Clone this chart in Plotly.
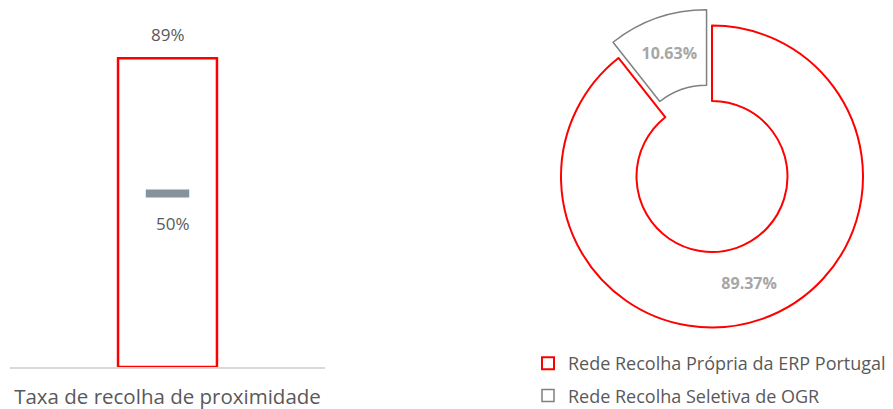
import plotly.graph_objects as go

# Data
bar_categories = ["Taxa de recolha de proximidade"]
bar_values = [0.89]
target_values = [0.50]

pie_labels = ["Rede Recolha Própria da ERP Portugal", "Rede Recolha Seletiva de OGR"]
pie_values = [89.37, 10.63]

W, H = 893, 409
FONT = "Open Sans"
TXT = "#595959"

fig = go.Figure()

fig.add_trace(go.Bar(
    x=bar_categories, y=bar_values, width=0.314,
    marker=dict(color="white", line=dict(color="#ff0000", width=2.5)),
    showlegend=False, hoverinfo="skip",
))
fig.add_trace(go.Scatter(
    x=bar_categories, y=target_values, mode="markers",
    marker=dict(symbol="line-ew", size=31, line=dict(color="#86939c", width=8)),
    showlegend=False, hoverinfo="skip",
))
for c, v in zip(bar_categories, bar_values):
    fig.add_annotation(x=c, y=v, text=f"{v:.0%}", showarrow=False, yshift=24,
                       font=dict(family=FONT, size=17, color=TXT))
for c, v in zip(bar_categories, target_values):
    fig.add_annotation(x=c, y=v, text=f"{v:.0%}", showarrow=False, yshift=-30, xshift=5,
                       font=dict(family=FONT, size=17, color=TXT))

pull = 0.11
half = 151 * (1 + pull)
cx, cy = 712.0, 176.5
fig.add_trace(go.Pie(
    labels=pie_labels, values=pie_values, hole=0.5, sort=False,
    direction="clockwise", rotation=0, pull=[0, pull],
    marker=dict(colors=["white", "white"], line=dict(color=["#ff0000", "#808080"], width=[2, 1.5])),
    texttemplate="<b>%{value:.2f}%</b>", textposition="inside",
    insidetextorientation="horizontal",
    textfont=dict(family=FONT, size=16, color="#a6a6a6"),
    domain=dict(x=[(cx - half) / W, (cx + half) / W],
                y=[(H - cy - half) / H, (H - cy + half) / H]),
    showlegend=False, hoverinfo="skip",
))

# Legend entries
leg_colors = ["#ff0000", "#7f7f7f"]
for lab, col in zip(pie_labels, leg_colors):
    fig.add_trace(go.Scatter(
        x=[None], y=[None], mode="markers", name=lab, legendgroup=lab,
        marker=dict(symbol="square", size=12, color="white",
                    line=dict(color=col, width=2 if col == "#ff0000" else 1.5)),
    ))

fig.update_layout(
    width=W, height=H,
    margin=dict(l=0, r=0, t=0, b=0, autoexpand=False),
    paper_bgcolor="white", plot_bgcolor="white",
    font=dict(family=FONT, color=TXT),
    xaxis=dict(domain=[10 / W, 325 / W], showgrid=False, zeroline=False,
               automargin=False,
               showline=True, linecolor="#d9d9d9", linewidth=1.5,
               ticks="outside", ticklen=11, tickcolor="rgba(0,0,0,0)",
               tickfont=dict(family=FONT, size=20.5, color=TXT)),
    yaxis=dict(domain=[(H - 367) / H, (H - 20) / H], range=[0, 1],
               automargin=False,
               showgrid=False, zeroline=False, showticklabels=False, visible=False),
    legend=dict(x=528 / W, y=(H - 345) / H, xanchor="left", yanchor="top",
                xref="container", yref="container",
                font=dict(family=FONT, size=18, color=TXT),
                tracegroupgap=6, bgcolor="rgba(0,0,0,0)", itemwidth=30),
    showlegend=True,
)

fig.write_html("out.html", config={"displayModeBar": False},
               post_script="document.body.style.margin='0';document.body.style.padding='0';")
